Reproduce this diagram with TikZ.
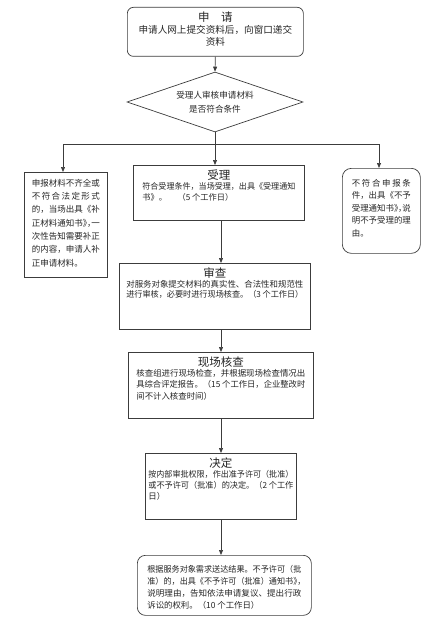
\documentclass[tikz,border=0pt]{standalone}
\usepackage{fontspec}
\usepackage{graphicx}
\setmainfont{Noto Sans CJK SC}
\usetikzlibrary{arrows.meta, positioning, shapes.geometric}
\definecolor{fcInk}{HTML}{3C3C3C}
\definecolor{fcText}{HTML}{262626}
\newcommand{\ttlfont}{\fontsize{11.5}{13}\selectfont}
\newcommand{\halt}{\addfontfeatures{RawFeature=+halt}}
\newcommand{\fitline}[1]{\resizebox{\linewidth}{\height}{#1}}
\newcommand{\spread}[1]{\makebox[\linewidth][s]{#1}}
\newcommand{\boxbody}[3]{\begin{minipage}[t][#1][t]{#2}#3\end{minipage}}
\tikzset{
  stepbox/.style={
    draw=fcInk, line width=0.7pt, fill=white, text=fcText,
    inner xsep=8pt, inner ysep=0pt, anchor=north west
  },
  roundbox/.style={stepbox, rounded corners=8pt},
  decide/.style={
    diamond, draw=fcInk, line width=0.7pt, aspect=2.93,
    minimum width=176pt, minimum height=60pt, inner sep=0pt,
    align=center, text=fcText, font=\fontsize{8.6}{14}\selectfont
  },
  flow/.style={-{Triangle[length=5pt, width=4pt]}, line width=0.7pt, draw=fcInk},
  link/.style={line width=0.7pt, draw=fcInk},
}
\begin{document}
\begin{tikzpicture}[x=1pt, y=-1pt]
  \useasboundingbox (0,0) rectangle (437,623);
  \node[roundbox, inner xsep=8pt, rounded corners=6pt] (apply) at (127,7)
    {\boxbody{49pt}{160pt}{\vspace*{4pt}\centering{\ttlfont 申\hspace{1em}请\par}\vspace{0.5pt}%
      \fontsize{9.6}{12}\selectfont 申请人网上提交资料后，向窗口递交\\资料\par}};
  \node[decide] (check) at (215,102) {受理人审核申请材料\\是否符合条件};
  \coordinate (fork) at (215,144);
  \coordinate (forkL) at (63,144);
  \coordinate (forkR) at (379,144);
  \coordinate (spine) at (221,0);
  % three outcomes of the check
  \node[stepbox, inner xsep=7.5pt] (supply) at (24,172)
    {\boxbody{105pt}{68pt}{\vspace*{6.7pt}\fontsize{8.5}{13.3}\selectfont
      \fitline{申报材料不齐全或}\\
      \spread{不 符 合 法 定 形 式}\\
      \fitline{的，当场出具《补}\\
      \fitline{\halt 正材料通知书》，一}\\
      \fitline{次性告知需要补正}\\
      \fitline{的内容，申请人补}\\
      正申请材料。}};
  \node[stepbox, inner xsep=9pt] (accept) at (133,165)
    {\boxbody{55pt}{153pt}{\vspace*{4pt}{\centering\ttlfont 受理\par}\vspace{-1pt}%
      \fontsize{8.2}{11}\selectfont
      \fitline{符合受理条件，当场受理，出具《受理通知}\\
      书》。\hspace{1.3em}（5 个工作日）}};
  \node[roundbox, inner xsep=9.5pt, rounded corners=9pt] (refuse) at (342,168)
    {\boxbody{85pt}{59pt}{\vspace*{10.8pt}\fontsize{8.4}{12.5}\selectfont
      \spread{不 符 合 申 报 条}\\
      \fitline{件，出具《不予}\\
      \fitline{受理通知书{\halt 》，}说}\\
      \fitline{明不予受理的理}\\
      由。}};
  % main line
  \node[stepbox, inner xsep=7pt] (review) at (119,263)
    {\boxbody{66pt}{177pt}{\vspace*{4pt}{\centering\ttlfont 审查\par}\vspace{-0.2pt}%
      \fontsize{8.4}{10.3}\selectfont
      \fitline{对服务对象提交材料的真实性、合法性和规范性}\\
      \fitline{进行审核，必要时进行现场核查。（3 个工作日）}}};
  \node[stepbox, inner xsep=8pt] (onsite) at (128,352)
    {\boxbody{66pt}{169pt}{\vspace*{4pt}{\centering\ttlfont 现场核查\par}\vspace{-1.4pt}%
      \fontsize{8.4}{11.5}\selectfont
      \fitline{核查组进行现场检查，并根据现场检查情况出}\\
      \fitline{具综合评定报告。（15 个工作日，企业整改时}\\
      间不计入核查时间）}};
  \node[stepbox, inner xsep=3pt] (decision) at (145,453)
    {\boxbody{66pt}{145pt}{\vspace*{4pt}{\centering\ttlfont 决定\par}\vspace{-0.9pt}%
      \fontsize{8.4}{11}\selectfont
      \fitline{按内部审批权限，作出准予许可（批准）}\\
      \fitline{或不予许可（批准）的决定。（2 个工作}\\
      日）}};
  \node[roundbox, inner xsep=10pt] (result) at (137,555)
    {\boxbody{60pt}{154pt}{\vspace*{9.8pt}\fontsize{8.4}{12}\selectfont
      \fitline{根据服务对象需求送达结果。不予许可（批}\\
      \fitline{准）的，出具《不予许可（批准）通知书{\halt 》，}}\\
      \fitline{说明理由，告知依法申请复议、提出行政}\\
      诉讼的权利。（10 个工作日）}};
  % connectors
  \draw[flow] (apply.south) -- (check.north);
  \draw[link] (check.south) -- (fork);
  \draw[link] (forkL) -- (forkR);
  \draw[flow] (forkL) -- (forkL |- supply.north);
  \draw[flow] (fork) -- (fork |- accept.north);
  \draw[flow] (forkR) -- (forkR |- refuse.north);
  \draw[flow] (spine |- accept.south) -- (spine |- review.north);
  \draw[flow] (spine |- review.south) -- (spine |- onsite.north);
  \draw[flow] (spine |- onsite.south) -- (spine |- decision.north);
  \draw[flow] (spine |- decision.south) -- (spine |- result.north);
\end{tikzpicture}
\end{document}
